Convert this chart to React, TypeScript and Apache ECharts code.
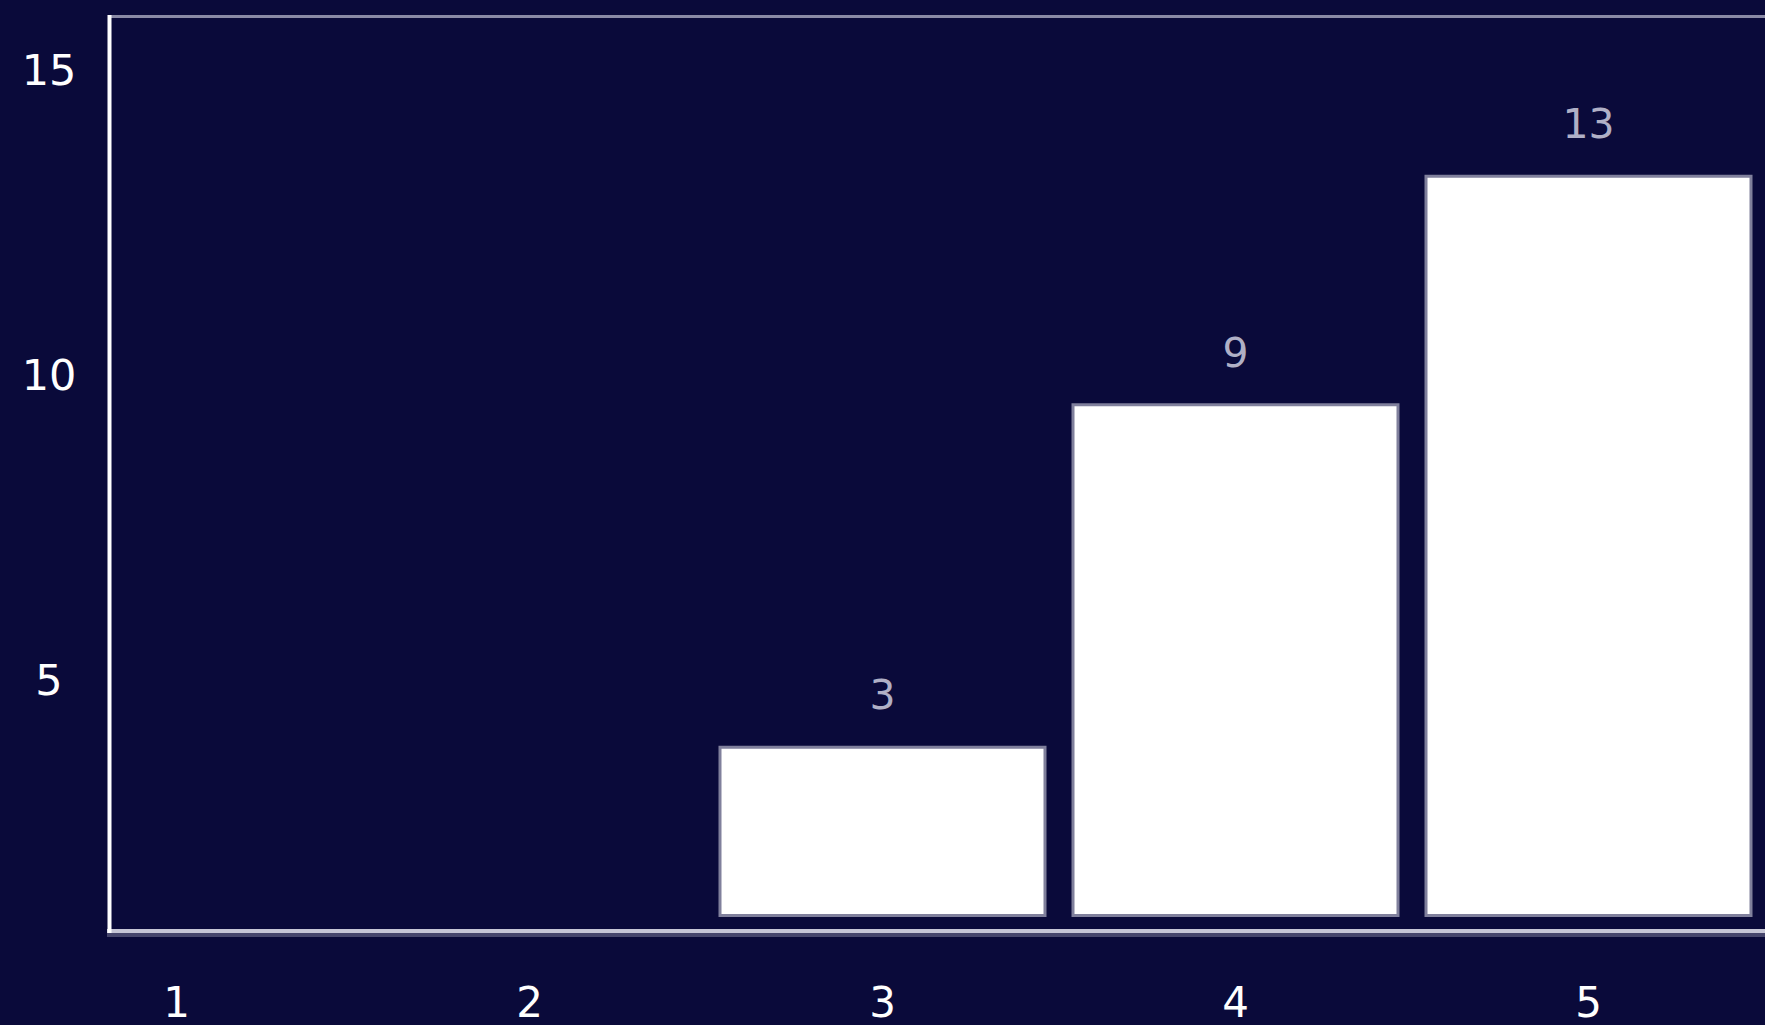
import React, { useEffect, useRef } from "react";
import * as echarts from "echarts";

const categories = ["1", "2", "3", "4", "5"];
const values: (number | null)[] = [null, null, 3, 9, 13];
const yTickLabels = [5, 10, 15];

const FONT = "DejaVu Sans";

export default function App() {
  const ref = useRef<HTMLDivElement>(null);

  useEffect(() => {
    document.body.style.margin = "0";
    document.body.style.background = "#0a0a3a";
    if (!ref.current) return;
    const chart = echarts.init(ref.current, null, { renderer: "svg" });
    chart.setOption({
      animation: false,
      backgroundColor: "#0a0a3a",
      grid: { left: -9, right: -4.5, top: 16, bottom: 40 },
      xAxis: {
        type: "category",
        data: categories,
        axisLine: { show: false },
        axisTick: { show: false },
        splitLine: { show: false },
        axisLabel: {
          color: "#ffffff",
          fontSize: 42,
          fontFamily: FONT,
          margin: 17,
          verticalAlign: "middle",
        },
      },
      yAxis: [
        {
          type: "value",
          min: 0,
          max: 15.885,
          interval: 5,
          position: "left",
          offset: -117,
          axisLine: { show: false },
          axisTick: { show: false },
          splitLine: { show: false },
          axisLabel: {
            color: "#ffffff",
            fontSize: 43,
            fontFamily: FONT,
            align: "center",
            margin: 68,
            formatter: (v: number) => (yTickLabels.includes(v) ? String(v) : ""),
          },
        },
        {
          type: "value",
          min: -1.19,
          max: 15.78,
          show: false,
          splitLine: { show: false },
        },
      ],
      series: [
        {
          type: "bar",
          yAxisIndex: 1,
          data: values.map((v) => (v === null ? "-" : v)),
          barWidth: 328,
          itemStyle: { color: "#ffffff", borderColor: "#80809c", borderWidth: 3 },
          label: {
            show: true,
            position: "top",
            distance: 30,
            color: "#b0b0c6",
            fontSize: 41,
            fontFamily: FONT,
          },
        },
      ],
      graphic: [
        {
          type: "line",
          shape: { x1: 108, y1: 16.5, x2: 1765, y2: 16.5 },
          style: { stroke: "#8a8aa6", lineWidth: 3 },
          silent: true,
        },
        {
          type: "line",
          shape: { x1: 107, y1: 931, x2: 1765, y2: 931 },
          style: { stroke: "#c6c6d6", lineWidth: 4 },
          silent: true,
        },
        {
          type: "line",
          shape: { x1: 107, y1: 935, x2: 1765, y2: 935 },
          style: { stroke: "#46466c", lineWidth: 4 },
          silent: true,
        },
        {
          type: "line",
          shape: { x1: 109.5, y1: 15, x2: 109.5, y2: 933 },
          style: { stroke: "#ffffff", lineWidth: 4 },
          silent: true,
        },
      ],
    });
    return () => chart.dispose();
  }, []);

  return (
    <div
      ref={ref}
      style={{ position: "absolute", left: 0, top: 0, width: 1765, height: 1025 }}
    />
  );
}
